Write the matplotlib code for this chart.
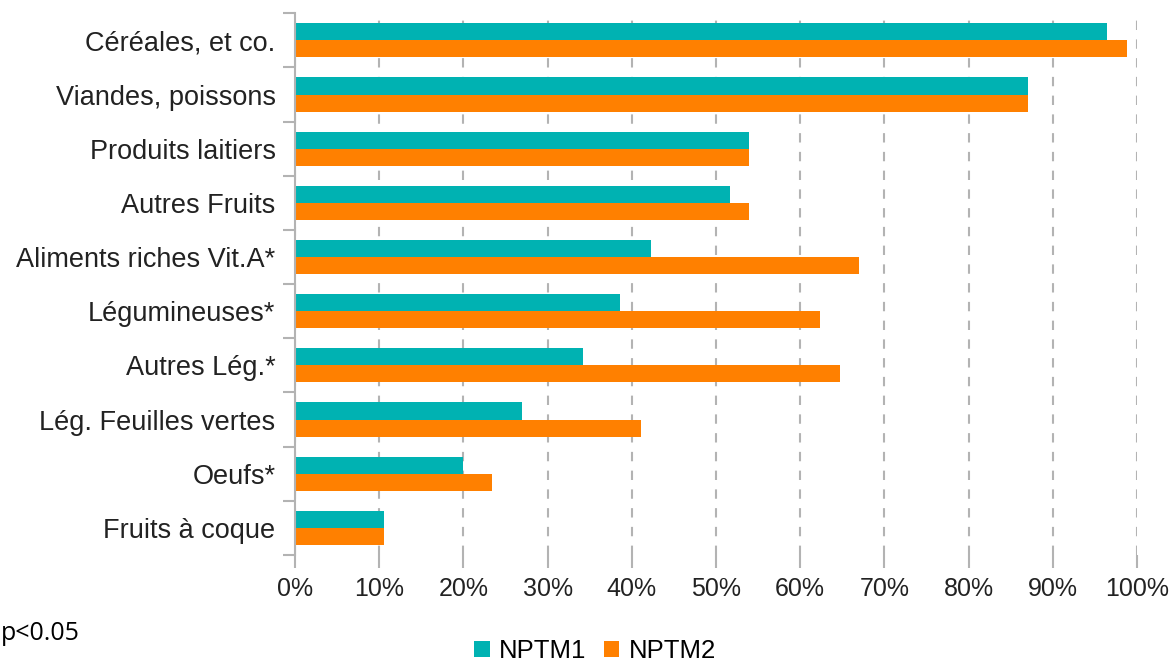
import numpy as np
import matplotlib
matplotlib.use("Agg")
import matplotlib.pyplot as plt
from matplotlib.ticker import FuncFormatter, FixedLocator

categories = [
    "Céréales, et co.",
    "Viandes, poissons",
    "Produits laitiers",
    "Autres Fruits",
    "Aliments riches Vit.A*",
    "Légumineuses*",
    "Autres Lég.*",
    "Lég. Feuilles vertes",
    "Oeufs*",
    "Fruits à coque",
]
nptm1 = [96.4, 87.1, 53.9, 51.7, 42.3, 38.6, 34.2, 27.0, 20.0, 10.6]
nptm2 = [98.8, 87.1, 53.9, 53.9, 67.0, 62.4, 64.7, 41.1, 23.4, 10.6]
xticks = list(range(0, 101, 10))

teal = "#00b2b2"
orange = "#ff8000"
grey = "#b3b3b3"

plt.rcParams["font.family"] = ["Liberation Sans", "DejaVu Sans"]

fig = plt.figure(figsize=(11.69, 6.63), dpi=100)
ax = fig.add_axes([0.2524, 0.163, 0.9726 - 0.2524, 0.980 - 0.163])

y = np.arange(len(categories))
h = 0.315
ax.barh(y - h / 2, nptm1, height=h, color=teal, label="NPTM1", zorder=3)
ax.barh(y + h / 2, nptm2, height=h, color=orange, label="NPTM2", zorder=3)

ax.set_ylim(len(categories) - 0.5, -0.5)
ax.set_xlim(0, 100)

ax.set_yticks(y)
ax.set_yticklabels(categories, fontsize=19.5, color="#222222")
ax.yaxis.set_minor_locator(FixedLocator(np.arange(-0.5, len(categories), 1.0)))
ax.tick_params(axis="y", which="major", length=0, pad=14)
ax.tick_params(axis="y", which="minor", length=9, width=1.5, color=grey)

ax.set_xticks(xticks)
ax.xaxis.set_major_formatter(FuncFormatter(lambda v, p: f"{v:.0f}%"))
ax.tick_params(axis="x", length=9, width=1.5, color=grey, labelsize=18,
               labelcolor="#222222", pad=7)

ax.grid(axis="x", color=grey, linestyle=(0, (4.5, 4.5)), linewidth=1.5, zorder=0)

for s in ["top", "right", "bottom"]:
    ax.spines[s].set_visible(False)
ax.spines["left"].set_color(grey)
ax.spines["left"].set_linewidth(1.5)
ax.spines["left"].set_zorder(4)

fig.legend(loc="center", bbox_to_anchor=(0.509, 0.018), ncol=2, frameon=False,
           fontsize=18.5, handlelength=0.6, handleheight=0.6, handletextpad=0.35,
           columnspacing=0.7)

fig.text(0.001, 0.045, "p<0.05", fontsize=18, family=["Open Sans", "DejaVu Sans"],
         ha="left", va="center", color="black")

fig.savefig("out.png", dpi=100)
